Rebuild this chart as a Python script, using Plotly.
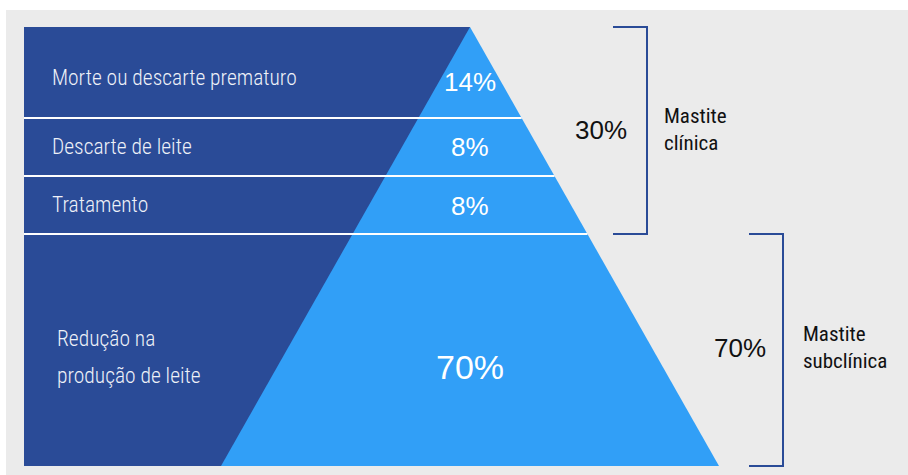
import plotly.graph_objects as go

# ---- data ----
categories = ["Morte ou descarte prematuro", "Descarte de leite", "Tratamento",
              "Redução na<br>produção de leite"]
values = [14, 8, 8, 70]
groups = ["Mastite<br>clínica", "Mastite<br>subclínica"]
group_values = [30, 70]
group_members = [[0, 1, 2], [3]]

# ---- layout geometry (pixels, y downwards) ----
W, H = 908, 475
bounds = [27, 118, 176, 234, 466]          # layer boundaries
apex_x, half_base = 470, 249
panel_left = 24
cat_label_x = [50, 50, 50, 55]
cat_label_y = [[77], [146], [204], [338, 375]]
val_y = [82, 147, 206, 367]
val_size = [26, 26, 26, 34]

DARK = "#2a4b97"
LIGHT = "#319ff7"
GREY = "#ebebeb"
LABEL_FONT = "Roboto Condensed, sans-serif"
GROUP_FONT = "Roboto Condensed, sans-serif"
SANS = "Liberation Sans, Arial, sans-serif"

def right_edge(y):
    return apex_x + (y - bounds[0]) / (bounds[-1] - bounds[0]) * half_base

def left_edge(y):
    return apex_x - (y - bounds[0]) / (bounds[-1] - bounds[0]) * half_base

shapes = []
shapes.append(dict(type="rect", x0=6, x1=W, y0=10, y1=H, fillcolor=GREY,
                   line_width=0, layer="below"))
shapes.append(dict(type="rect", x0=panel_left, x1=apex_x, y0=bounds[0], y1=bounds[-1],
                   fillcolor=DARK, line_width=0, layer="below"))
shapes.append(dict(type="path",
                   path=f"M {apex_x} {bounds[0]} L {right_edge(bounds[-1])} {bounds[-1]} "
                        f"L {left_edge(bounds[-1])} {bounds[-1]} Z",
                   fillcolor=LIGHT, line_width=0, layer="below"))
for yb in bounds[1:-1]:
    shapes.append(dict(type="line", x0=panel_left, x1=right_edge(yb), y0=yb, y1=yb,
                       line=dict(color="white", width=2)))

annotations = []
for i, cat in enumerate(categories):
    for line, yy in zip(cat.split("<br>"), cat_label_y[i]):
        annotations.append(dict(x=cat_label_x[i], y=yy, text=line, showarrow=False,
                                xanchor="left", yanchor="middle",
                                font=dict(family=LABEL_FONT, size=21.5, weight=300,
                                          color="#eef1f8")))
    annotations.append(dict(x=apex_x, y=val_y[i], text=f"{values[i]}%", showarrow=False,
                            xanchor="center", yanchor="middle",
                            font=dict(family=SANS, size=val_size[i], color="white")))

bracket_x = [647, 783]
bracket_w = 34
grp_pct_x = [601, 740]
grp_pct_y = [130, 348]
grp_lbl_x = [662, 801]
grp_lbl_y = [129, 347]
for g, members in enumerate(group_members):
    y0 = bounds[members[0]]
    y1 = bounds[members[-1] + 1]
    bx = bracket_x[g]
    shapes.append(dict(type="path",
                       path=f"M {bx - bracket_w} {y0} L {bx} {y0} L {bx} {y1} L {bx - bracket_w} {y1}",
                       line=dict(color=DARK, width=2)))
    annotations.append(dict(x=grp_pct_x[g], y=grp_pct_y[g],
                            text=f"{group_values[g]}%", showarrow=False,
                            xanchor="center", yanchor="middle",
                            font=dict(family=SANS, size=26, color="#111111")))
    annotations.append(dict(x=grp_lbl_x[g], y=grp_lbl_y[g], text=groups[g], showarrow=False,
                            xanchor="left", yanchor="middle", align="left",
                            font=dict(family=GROUP_FONT, size=21, color="#111111")))

fig = go.Figure()
fig.add_trace(go.Scatter(x=[0, W], y=[0, H], mode="markers",
                         marker=dict(opacity=0), hoverinfo="skip", showlegend=False))
fig.update_layout(
    width=W, height=H, margin=dict(l=0, r=0, t=0, b=0),
    paper_bgcolor="white", plot_bgcolor="white",
    xaxis=dict(range=[0, W], visible=False, fixedrange=True),
    yaxis=dict(range=[H, 0], visible=False, fixedrange=True),
    shapes=shapes, annotations=annotations, showlegend=False,
)
fig.write_html("out.html", config={"displayModeBar": False})
